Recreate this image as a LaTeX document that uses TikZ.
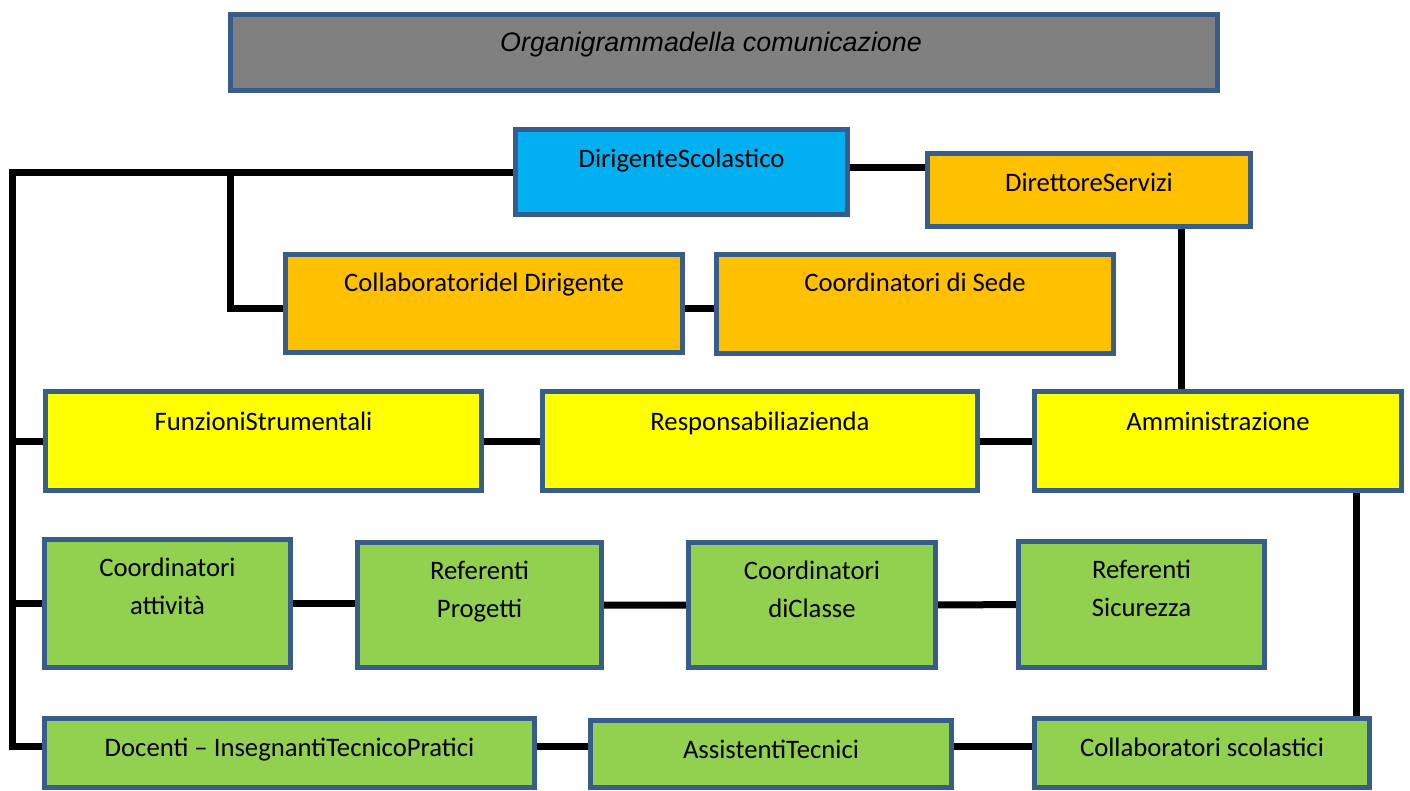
\documentclass[tikz,border=0pt]{standalone}
\usepackage{fontspec}
\setmainfont{Carlito}
\newfontfamily\titlefont{Liberation Sans}
\usetikzlibrary{backgrounds}

\definecolor{bordo}{RGB}{56,93,138}
\definecolor{grigio}{RGB}{128,128,128}
\definecolor{azzurro}{RGB}{0,176,240}
\definecolor{arancio}{RGB}{255,192,0}
\definecolor{giallo}{RGB}{255,255,0}
\definecolor{verde}{RGB}{146,208,80}

\tikzset{
	box/.style={draw=bordo, line width=5pt, inner sep=0pt},
	txt/.style={anchor=base, align=center, inner sep=0pt, font=\fontsize{26.7}{37.5}\selectfont},
	link/.style={line width=7pt, black},
}

\begin{document}
\begin{tikzpicture}[x=1pt,y=-1pt]
	\useasboundingbox (0,0) rectangle (1410,790);
	
	\node[box, fill=grigio, minimum width=987, minimum height=76] (tit) at (724,52.5) {};
	\node[box, fill=azzurro, minimum width=332, minimum height=85] (ds) at (681.5,172) {};
	\node[box, fill=arancio, minimum width=323, minimum height=73] (dsga) at (1089,190) {};
	\node[box, fill=arancio, minimum width=397, minimum height=98] (cd) at (484,303.5) {};
	\node[box, fill=arancio, minimum width=397, minimum height=99] (cs) at (915,304) {};
	\node[box, fill=giallo, minimum width=436, minimum height=99] (fs) at (263.5,441) {};
	\node[box, fill=giallo, minimum width=435, minimum height=99] (ra) at (760,441) {};
	\node[box, fill=giallo, minimum width=367, minimum height=99] (amm) at (1218,441) {};
	\node[box, fill=verde, minimum width=246, minimum height=128] (ca) at (167.5,603.5) {};
	\node[box, fill=verde, minimum width=244, minimum height=125] (rp) at (479.5,605) {};
	\node[box, fill=verde, minimum width=247, minimum height=125] (cc) at (812,605) {};
	\node[box, fill=verde, minimum width=246, minimum height=126] (rs) at (1141.5,604.5) {};
	\node[box, fill=verde, minimum width=490, minimum height=69] (doc) at (289.5,753) {};
	\node[box, fill=verde, minimum width=361, minimum height=67] (at) at (771,754) {};
	\node[box, fill=verde, minimum width=335, minimum height=69] (col) at (1202,753) {};
	
	\node[txt, font=\fontsize{26.8}{30}\selectfont] (tit-t) at ([xshift=-13pt,yshift=-39.5pt]tit.north) {\titlefont\itshape Organigrammadella comunicazione};
	\node[txt] (ds-t) at ([yshift=-40pt]ds.north) {DirigenteScolastico};
	\node[txt] (dsga-t) at ([yshift=-40pt]dsga.north) {DirettoreServizi};
	\node[txt] (cd-t) at ([yshift=-39pt]cd.north) {Collaboratoridel Dirigente};
	\node[txt] (cs-t) at ([yshift=-39pt]cs.north) {Coordinatori di Sede};
	\node[txt] (fs-t) at ([yshift=-41pt]fs.north) {FunzioniStrumentali};
	\node[txt] (ra-t) at ([yshift=-41pt]ra.north) {Responsabiliazienda};
	\node[txt] (amm-t) at ([yshift=-41pt]amm.north) {Amministrazione};
	\node[txt] (ca-t) at ([yshift=-77pt]ca.north) {Coordinatori\\attività};
	\node[txt] (rp-t) at ([yshift=-77pt]rp.north) {Referenti\\Progetti};
	\node[txt] (cc-t) at ([yshift=-77pt]cc.north) {Coordinatori\\diClasse};
	\node[txt] (rs-t) at ([yshift=-77pt]rs.north) {Referenti\\Sicurezza};
	\node[txt] (doc-t) at ([yshift=-40.5pt]doc.north) {Docenti -- InsegnantiTecnicoPratici};
	\node[txt] (at-t) at ([yshift=-40.5pt]at.north) {AssistentiTecnici};
	\node[txt] (col-t) at ([yshift=-40.5pt]col.north) {Collaboratori scolastici};
	
	\coordinate (tl) at (12,172);
	\coordinate (br) at (230,172);
	\coordinate (docin) at ([yshift=7pt]doc.west);
	\coordinate (dv) at ([xshift=92pt]dsga.south);
	\coordinate (av) at ([xshift=138pt]amm.south);
	
	\begin{scope}[on background layer]
		\draw[link] (ds.west) -- (tl) -- (tl |- docin) -- (docin);
		\draw[link] (br) |- ([yshift=-5pt]cd.west);
		\draw[link] ([yshift=5pt]ds.east) -- ([yshift=5pt]ds.east -| dsga.west);
		\draw[link] ([yshift=-5pt]cd.east) -- ([yshift=-5pt]cd.east -| cs.west);
		\draw[link] (dv) -- (dv |- amm.north);
		\draw[link] (tl |- fs.west) -- (fs.west);
		\draw[link] (fs) -- (ra) -- (amm);
		\draw[link] (tl |- ca.west) -- (ca.west);
		\draw[link] (ca) -- (ca -| rp.west);
		\draw[link] (rp) -- (cc) -- (rs);
		\draw[link] (av) -- (av |- col.north);
		\draw[link] (docin) -- (docin -| col.west);
	\end{scope}
\end{tikzpicture}
\end{document}
